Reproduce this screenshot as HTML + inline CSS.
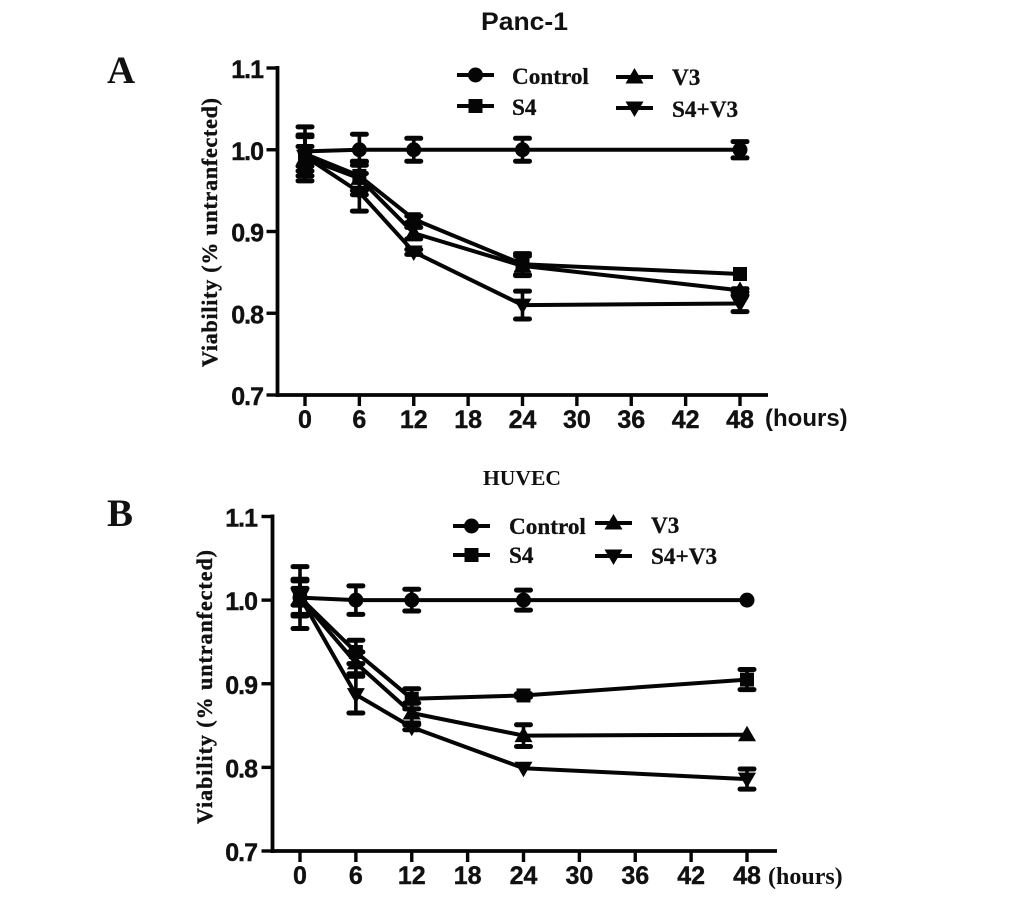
<!DOCTYPE html>
<html>
<head>
<meta charset="utf-8">
<style>
html,body{margin:0;padding:0;background:#fff;width:1033px;height:899px;overflow:hidden}
svg{display:block}
.tick{font-family:"Liberation Sans",sans-serif;font-weight:bold;font-size:25px;fill:#111;stroke:#111;stroke-width:.4}
.leg{font-family:"Liberation Serif",serif;font-weight:bold;font-size:23.2px;fill:#111;stroke:#111;stroke-width:.3}
</style>
</head>
<body>
<svg id="figure" width="1033" height="899" viewBox="0 0 1033 899" xmlns="http://www.w3.org/2000/svg">
  <text x="107" y="83" font-family="Liberation Serif, serif" font-weight="bold" font-size="39" fill="#111">A</text>
  <text x="107" y="526" font-family="Liberation Serif, serif" font-weight="bold" font-size="39" fill="#111">B</text>
  <text x="481" y="30" font-family="Liberation Sans, sans-serif" font-weight="bold" font-size="25" textLength="87" lengthAdjust="spacingAndGlyphs" fill="#111">Panc-1</text>
  <text x="483" y="485" font-family="Liberation Serif, serif" font-weight="bold" font-size="21" textLength="78" lengthAdjust="spacingAndGlyphs" fill="#111">HUVEC</text>
  <text transform="translate(217,367) rotate(-90)" font-family="Liberation Serif, serif" font-weight="bold" font-size="22" stroke="#111" stroke-width="0.4" textLength="269" lengthAdjust="spacing" fill="#111">Viability (% untranfected)</text>
  <text transform="translate(212,824) rotate(-90)" font-family="Liberation Serif, serif" font-weight="bold" font-size="22" stroke="#111" stroke-width="0.4" textLength="274" lengthAdjust="spacing" fill="#111">Viability  (% untranfected)</text>
  <text x="765" y="426" font-family="Liberation Sans, sans-serif" font-weight="bold" font-size="24" fill="#111">(hours)</text>
  <text x="768" y="884" font-family="Liberation Serif, serif" font-weight="bold" font-size="24" fill="#111">(hours)</text>

  <text class="leg" x="512" y="84">Control</text>
  <text class="leg" x="512" y="115">S4</text>
  <text class="leg" x="672" y="85">V3</text>
  <text class="leg" x="672" y="117">S4+V3</text>
  <text class="leg" x="509" y="534">Control</text>
  <text class="leg" x="509" y="563">S4</text>
  <text class="leg" x="651" y="533">V3</text>
  <text class="leg" x="651" y="564">S4+V3</text>
</svg>
<script>
const hours = [0, 6, 12, 24, 48];
const xTickValues = [0, 6, 12, 18, 24, 30, 36, 42, 48];
const yTickValues = [0.7, 0.8, 0.9, 1.0, 1.1];
const yTickLabels = ['0.7', '0.8', '0.9', '1.0', '1.1'];

const panelAControl = [0.998, 1.0, 1.0, 1.0, 1.0];
const panelAControlErr = [0.03, 0.019, 0.014, 0.014, 0.01];
const panelAS4 = [0.995, 0.968, 0.915, 0.86, 0.848];
const panelAS4Err = [0.021, 0.018, 0.004, 0.013, 0];
const panelAV3 = [0.99, 0.965, 0.898, 0.858, 0.828];
const panelAV3Err = [0.028, 0.02, 0.007, 0.012, 0.002];
const panelAS4V3 = [0.992, 0.948, 0.875, 0.81, 0.812];
const panelAS4V3Err = [0.012, 0.023, 0.003, 0.017, 0.01];

const panelBControl = [1.003, 1.0, 1.0, 1.0, 1.0];
const panelBControlErr = [0.037, 0.017, 0.013, 0.012, 0];
const panelBS4 = [1.003, 0.938, 0.882, 0.886, 0.905];
const panelBS4Err = [0.022, 0.014, 0.012, 0.002, 0.012];
const panelBV3 = [1.003, 0.925, 0.865, 0.838, 0.839];
const panelBV3Err = [0.02, 0.013, 0.012, 0.013, 0];
const panelBS4V3 = [1.004, 0.887, 0.848, 0.799, 0.786];
const panelBS4V3Err = [0.01, 0.022, 0.003, 0, 0.012];

const NS = 'http://www.w3.org/2000/svg';
const svg = document.getElementById('figure');
const INK = '#050505';

function mk(tag, attrs, name, parent) {
  const el = document.createElementNS(NS, tag);
  for (const k in attrs) el.setAttribute(k, attrs[k]);
  
  
  (parent || svg).appendChild(el);
  return el;
}

function marker(kind, cx, cy, name, parent) {
  if (kind === 'circle') return mk('circle', {cx: cx, cy: cy, r: 7.5, fill: INK}, name, parent);
  if (kind === 'square') return mk('rect', {x: cx - 7, y: cy - 7, width: 14, height: 14, fill: INK}, name, parent);
  if (kind === 'up') return mk('polygon', {points: [cx, cy - 9, cx + 9, cy + 6.5, cx - 9, cy + 6.5].join(','), fill: INK}, name, parent);
  return mk('polygon', {points: [cx, cy + 9, cx + 9, cy - 6.5, cx - 9, cy - 6.5].join(','), fill: INK}, name, parent);
}

function drawPanel(p) {
  const sx = function (v) { return p.x0 + (v / 48) * (p.x48 - p.x0); };
  const sy = function (v) { return p.y07 + ((v - 0.7) / 0.4) * (p.y11 - p.y07); };
  const g = mk('g', {}, p.id + '-plot');

  mk('line', {x1: p.axisX, y1: sy(1.1) - 2, x2: p.axisX, y2: sy(0.7) + 2, stroke: INK, 'stroke-width': 3.8}, p.id + '-y-axis', g);
  mk('line', {x1: p.axisX, y1: sy(0.7), x2: p.axisEnd, y2: sy(0.7), stroke: INK, 'stroke-width': 3.8}, p.id + '-x-axis', g);

  yTickValues.forEach(function (v, i) {
    mk('line', {x1: p.axisX - 11, y1: sy(v), x2: p.axisX, y2: sy(v), stroke: INK, 'stroke-width': 3.4}, p.id + '-y-tick', g);
    const t = mk('text', {x: p.axisX - p.labelGap, y: sy(v) + 10, 'text-anchor': 'end', class: 'tick', 'letter-spacing': '-1'}, p.id + '-y-tick-label', g);
    t.textContent = yTickLabels[i];
  });
  xTickValues.forEach(function (v) {
    mk('line', {x1: sx(v), y1: sy(0.7), x2: sx(v), y2: sy(0.7) + 11, stroke: INK, 'stroke-width': 3.4}, p.id + '-x-tick', g);
    const t = mk('text', {x: sx(v), y: p.xLabelY, 'text-anchor': 'middle', class: 'tick'}, p.id + '-x-tick-label', g);
    t.textContent = String(v);
  });

  p.series.forEach(function (s) {
    const pts = hours.map(function (h, i) { return sx(h) + ',' + sy(s.values[i]); }).join(' ');
    mk('polyline', {points: pts, fill: 'none', stroke: INK, 'stroke-width': 4, 'stroke-linejoin': 'round'}, p.id + '-line-' + s.key, g);
    hours.forEach(function (h, i) {
      const x = sx(h), v = s.values[i], e = s.errs[i];
      if (e > 0) {
        mk('line', {x1: x, y1: sy(v - e), x2: x, y2: sy(v + e), stroke: INK, 'stroke-width': 3.6}, p.id + '-error-bar-' + s.key, g);
        [v - e, v + e].forEach(function (c) {
          mk('line', {x1: x - 7, y1: sy(c), x2: x + 7, y2: sy(c), stroke: INK, 'stroke-width': 5, 'stroke-linecap': 'round'}, p.id + '-error-cap-' + s.key, g);
        });
      }
      marker(s.kind, x, sy(v), p.id + '-point-' + s.key, g);
    });
  });

  p.legend.forEach(function (l) {
    mk('line', {x1: l.x1, y1: l.y, x2: l.x1 + 37, y2: l.y, stroke: INK, 'stroke-width': 4}, p.id + '-legend-line-' + l.key, g);
    marker(l.kind, l.x1 + 18.5, l.y, p.id + '-legend-marker-' + l.key, g);
  });
}

drawPanel({
  id: 'panel-a', x0: 305, x48: 740, y07: 395, y11: 68, axisX: 277.5, axisEnd: 768, xLabelY: 428, labelGap: 14.5,
  series: [
    {key: 'control', kind: 'circle', values: panelAControl, errs: panelAControlErr},
    {key: 's4', kind: 'square', values: panelAS4, errs: panelAS4Err},
    {key: 'v3', kind: 'up', values: panelAV3, errs: panelAV3Err},
    {key: 's4-v3', kind: 'down', values: panelAS4V3, errs: panelAS4V3Err}
  ],
  legend: [
    {key: 'control', kind: 'circle', x1: 457, y: 75},
    {key: 's4', kind: 'square', x1: 457, y: 106},
    {key: 'v3', kind: 'up', x1: 616, y: 77},
    {key: 's4-v3', kind: 'down', x1: 616, y: 108}
  ]
});

drawPanel({
  id: 'panel-b', x0: 300, x48: 747, y07: 851, y11: 516.5, axisX: 272.5, axisEnd: 777, xLabelY: 884, labelGap: 15.5,
  series: [
    {key: 'control', kind: 'circle', values: panelBControl, errs: panelBControlErr},
    {key: 's4', kind: 'square', values: panelBS4, errs: panelBS4Err},
    {key: 'v3', kind: 'up', values: panelBV3, errs: panelBV3Err},
    {key: 's4-v3', kind: 'down', values: panelBS4V3, errs: panelBS4V3Err}
  ],
  legend: [
    {key: 'control', kind: 'circle', x1: 453, y: 526},
    {key: 's4', kind: 'square', x1: 453, y: 555},
    {key: 'v3', kind: 'up', x1: 595, y: 523},
    {key: 's4-v3', kind: 'down', x1: 595, y: 556}
  ]
});
</script>
</body>
</html>
